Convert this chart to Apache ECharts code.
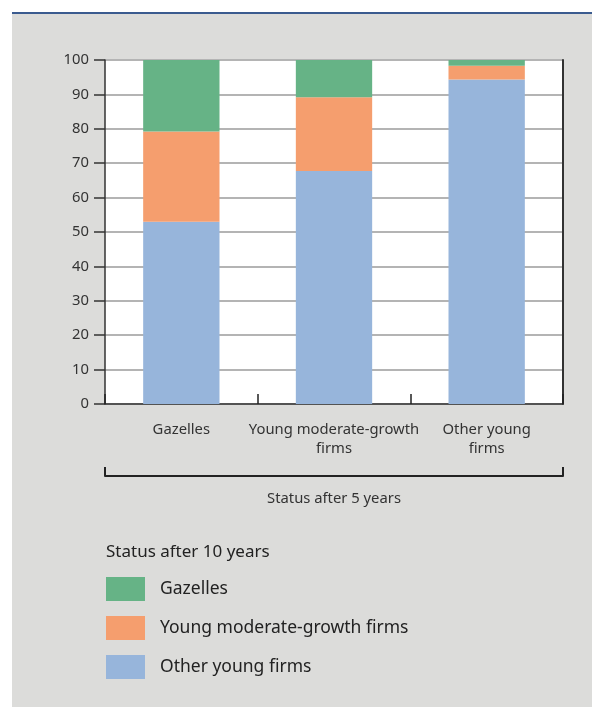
<!DOCTYPE html>
<html><head><meta charset="utf-8">
<script src="https://cdn.jsdelivr.net/npm/echarts@6/dist/echarts.min.js"></script>
<style>
html,body{margin:0;padding:0;background:#fff;}
#wrap{position:absolute;left:12px;top:12px;width:580px;height:695px;background:#dcdcda;border-top:2px solid #3b5b8f;box-sizing:border-box;}
#chart{position:absolute;left:0;top:0;width:592px;height:707px;}
</style></head>
<body>
<div id="wrap"></div>
<div id="chart"></div>
<script>
const categories = ['Gazelles', 'Young moderate-growth\nfirms', 'Other young\nfirms'];
const otherYoung = [53.0, 67.7, 94.3];
const moderateGrowth = [26.2, 21.5, 4.0];
const gazelles = [20.8, 10.8, 1.7];
const yTicks = [0, 100, 10];
const groupLabel = ['Status after 5 years'];
const legendTitle = 'Status after 10 years';
const seriesNames = ['Gazelles', 'Young moderate-growth firms', 'Other young firms'];

const FONT = 'Noto Sans';
const chart = echarts.init(document.getElementById('chart'), null, {renderer: 'canvas'});
chart.setOption({
  backgroundColor: 'transparent',
  animation: false,
  textStyle: {fontFamily: FONT},
  title: {
    text: legendTitle, left: 101, top: 539,
    textStyle: {fontFamily: FONT, fontSize: 17, fontWeight: 'normal', color: '#222'}
  },
  legend: {
    orient: 'vertical', left: 101, top: 572,
    data: seriesNames,
    icon: 'rect', itemWidth: 39, itemHeight: 24, itemGap: 15,
    textStyle: {fontFamily: FONT, fontSize: 17.5, color: '#222', padding: [0, 0, 0, 10]},
    selectedMode: false
  },
  grid: {left: 105, right: 29, top: 60, bottom: 303, show: true, backgroundColor: '#ffffff', borderWidth: 0},
  xAxis: [{
    type: 'category', data: categories, position: 'bottom',
    axisLine: {show: true, onZero: false, lineStyle: {color: '#333', width: 1.5}},
    axisTick: {show: true, inside: true, interval: 0, length: 10, lineStyle: {color: '#222', width: 1.5}},
    axisLabel: {interval: 0, fontFamily: FONT, fontSize: 14.8, color: '#333', margin: 16, lineHeight: 19}
  }, {
    type: 'category', data: groupLabel, position: 'bottom', offset: 72,
    axisLine: {show: true, onZero: false, lineStyle: {color: '#222', width: 2}},
    axisTick: {show: true, inside: true, interval: 0, length: 9, lineStyle: {color: '#222', width: 2}},
    axisLabel: {interval: 0, fontFamily: FONT, fontSize: 14.8, color: '#333', margin: 15}
  }],
  yAxis: [{
    type: 'value', min: yTicks[0], max: yTicks[1], interval: yTicks[2],
    axisLine: {show: true, lineStyle: {color: '#333', width: 1.5}},
    axisTick: {show: true, length: 11, lineStyle: {color: '#333', width: 1.5}},
    axisLabel: {fontFamily: FONT, fontSize: 14.8, color: '#333', margin: 16},
    splitLine: {show: true, lineStyle: {color: '#b4b4b4', width: 2}}
  }, {
    type: 'value', min: yTicks[0], max: yTicks[1], interval: yTicks[2], position: 'right',
    axisLine: {show: true, lineStyle: {color: '#333', width: 2}},
    axisTick: {show: false}, axisLabel: {show: false}, splitLine: {show: false}
  }],
  series: [
    {name: seriesNames[2], type: 'bar', stack: 'a', data: otherYoung, barWidth: '50%', itemStyle: {color: '#97b5db'}},
    {name: seriesNames[1], type: 'bar', stack: 'a', data: moderateGrowth, barWidth: '50%', itemStyle: {color: '#f59e6e'}},
    {name: seriesNames[0], type: 'bar', stack: 'a', data: gazelles, barWidth: '50%', itemStyle: {color: '#66b386'}}
  ]
});
</script>
</body></html>
